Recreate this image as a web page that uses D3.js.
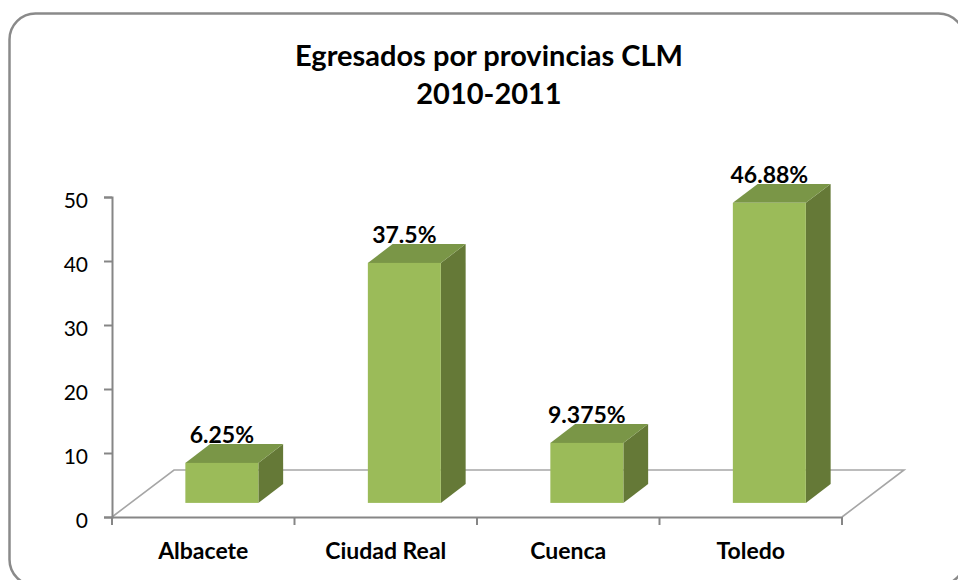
<!DOCTYPE html>
<html>
<head>
<meta charset="utf-8">
<script src="https://cdn.jsdelivr.net/npm/d3@7"></script>
<style>
  body { margin: 0; background: #fff; }
  svg { display: block; font-family: Lato, "Open Sans", sans-serif; }
</style>
</head>
<body>
<div id="chart"></div>
<script>
// Chart data
var categories = ["Albacete", "Ciudad Real", "Cuenca", "Toledo"];
var values = [6.25, 37.5, 9.375, 46.88];
var valueLabels = ["6.25%", "37.5%", "9.375%", "46.88%"];
var yTicks = [0, 10, 20, 30, 40, 50];
var titleLines = ["Egresados por provincias CLM", "2010-2011"];

var width = 958, height = 580;

var svg = d3.select("#chart").append("svg")
    .attr("width", width)
    .attr("height", height);

// Outer rounded frame of the chart area
svg.append("rect")
    .attr("x", 9.5).attr("y", 13.5)
    .attr("width", 955).attr("height", 572)
    .attr("rx", 26).attr("ry", 26)
    .attr("fill", "#fff")
    .attr("stroke", "#8a8a8a")
    .attr("stroke-width", 2.5);

// Title
svg.append("text")
    .attr("x", 489).attr("text-anchor", "middle")
    .attr("font-weight", "bold").attr("font-size", 29)
    .attr("fill", "#000")
    .selectAll("tspan")
    .data(titleLines)
    .enter().append("tspan")
      .attr("x", 489)
      .attr("y", (d, i) => 66 + i * 38)
      .text(d => d);

// Scales on the front plane
var x = d3.scaleBand()
    .domain(categories)
    .range([112, 842])
    .paddingInner(0.6)
    .paddingOuter(0.3);

var y = d3.scaleLinear()
    .domain([0, 50])
    .range([517, 197]);

// 3D depth of the floor (full depth vector) and where the bars sit in it
var depth = { dx: 62, dy: -47 };
var d0 = 0.3, d1 = 0.7;

// Floor outline (back and side edges, thin gray)
var floorColor = "#a6a6a6";
var bx = x.range()[0], ex = x.range()[1], y0 = y(0);
svg.append("polyline")
    .attr("points", [
      [bx, y0], [bx + depth.dx, y0 + depth.dy],
      [ex + depth.dx, y0 + depth.dy], [ex, y0]
    ].map(p => p.join(",")).join(" "))
    .attr("fill", "none")
    .attr("stroke", floorColor)
    .attr("stroke-width", 1.6);

// Bars
var frontColor = "#9bbb59", topColor = "#7a9647", sideColor = "#657937";
var fx = d0 * depth.dx, fy = d0 * depth.dy;
var bdx = (d1 - d0) * depth.dx, bdy = (d1 - d0) * depth.dy;
var bw = x.bandwidth();

var bars = svg.append("g").selectAll("g")
    .data(categories.map((c, i) => ({ cat: c, value: values[i], label: valueLabels[i] })))
    .enter().append("g");

bars.each(function(d) {
  var g = d3.select(this);
  var x0 = x(d.cat) + fx, x1 = x0 + bw;
  var yt = y(d.value) + fy, yb = y(0) + fy;

  // right side
  g.append("polygon")
    .attr("points", [[x1, yt], [x1 + bdx, yt + bdy], [x1 + bdx, yb + bdy], [x1, yb]].map(p => p.join(",")).join(" "))
    .attr("fill", sideColor);
  // top
  g.append("polygon")
    .attr("points", [[x0, yt], [x1, yt], [x1 + bdx, yt + bdy], [x0 + bdx, yt + bdy]].map(p => p.join(",")).join(" "))
    .attr("fill", topColor);
  // front
  g.append("rect")
    .attr("x", x0).attr("y", yt)
    .attr("width", bw).attr("height", yb - yt)
    .attr("fill", frontColor);

  // value label
  g.append("text")
    .attr("x", x0 + bw / 2)
    .attr("y", yt + bdy - 1)
    .attr("text-anchor", "middle")
    .attr("font-weight", "bold")
    .attr("font-size", 23)
    .attr("fill", "#000")
    .text(d.label);
});

// Y axis
var axisColor = "#868686";
var yAxis = svg.append("g")
    .attr("transform", "translate(112,0)")
    .call(d3.axisLeft(y).tickValues(yTicks).tickSize(8).tickPadding(16));
yAxis.select(".domain").attr("stroke", axisColor).attr("stroke-width", 2);
yAxis.selectAll(".tick line").attr("stroke", axisColor).attr("stroke-width", 2);
yAxis.selectAll(".tick text")
    .attr("font-family", "Lato, sans-serif")
    .attr("font-size", 21)
    .attr("fill", "#000")
    .attr("dy", "0.5em");

// X axis (front edge of the floor)
var xAxis = svg.append("g")
    .attr("transform", "translate(0," + y0 + ")")
    .call(d3.axisBottom(x).tickSize(0).tickPadding(26));
xAxis.select(".domain").attr("stroke", axisColor).attr("stroke-width", 2);
xAxis.selectAll(".tick text")
    .attr("font-family", "Lato, sans-serif")
    .attr("font-weight", "bold")
    .attr("font-size", 23)
    .attr("fill", "#000");

// Category boundary ticks
var bounds = d3.range(categories.length + 1).map(i => bx + i * x.step());
xAxis.selectAll(".bound")
    .data(bounds)
    .enter().append("line")
      .attr("class", "bound")
      .attr("x1", d => d).attr("x2", d => d)
      .attr("y1", 0).attr("y2", 8)
      .attr("stroke", axisColor)
      .attr("stroke-width", 2);
</script>
</body>
</html>
